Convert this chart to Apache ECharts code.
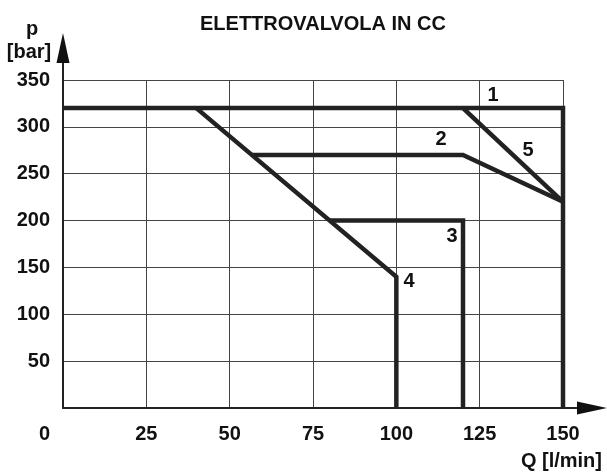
<!DOCTYPE html>
<html>
<head>
<meta charset="utf-8">
<script src="https://cdn.jsdelivr.net/npm/echarts@6/dist/echarts.min.js"></script>
<style>
  html, body { margin: 0; padding: 0; background: #fff; }
  #main { width: 607px; height: 475px; }
</style>
</head>
<body>
<div id="main"></div>
<script>
// curve data (Q in l/min, p in bar)
var curve1 = [[0, 320], [150, 320], [150, 0]];
var curve2 = [[56.7, 270], [120, 270], [150, 220]];
var curve3 = [[80, 200], [120, 200], [120, 0]];
var curve4 = [[40, 320], [100, 140], [100, 0]];
var curve5 = [[120, 320], [150, 220]];

// number tags beside the curves
var tagNames = ['1', '2', '3', '4', '5'];
var tagQ = [129, 113.4, 116.7, 103.8, 139.5];
var tagP = [334, 286, 182.5, 134.5, 275];

var xTicks = [0, 25, 50, 75, 100, 125, 150];
var yTicks = [0, 50, 100, 150, 200, 250, 300, 350];

var FONT = "'Liberation Sans', Arial, sans-serif";
var INK = '#111';

function curveSeries(name, data) {
    return {
        name: name,
        type: 'line',
        data: data,
        symbol: 'none',
        silent: true,
        lineStyle: { color: '#222', width: 4.5, join: 'miter' },
        z: 3
    };
}

var tagData = [];
for (var i = 0; i < tagNames.length; i++) {
    tagData.push([tagQ[i], tagP[i], tagNames[i]]);
}

var option = {
    animation: false,
    title: {
        text: 'ELETTROVALVOLA IN CC',
        left: 195,
        top: 9,
        textStyle: { fontFamily: FONT, fontSize: 20, fontWeight: 'bold', color: INK }
    },
    grid: { left: 63, right: 44, top: 80, bottom: 67, containLabel: false },
    xAxis: {
        type: 'value',
        min: xTicks[0],
        max: xTicks[xTicks.length - 1],
        interval: 25,
        axisLine: { show: true, lineStyle: { color: '#222', width: 2 } },
        axisTick: { show: false },
        splitLine: { show: true, lineStyle: { color: '#444', width: 1 } },
        axisLabel: {
            margin: 16,
            fontFamily: FONT,
            fontSize: 20,
            fontWeight: 'bold',
            color: INK,
            formatter: function (v) {
                if (v === 0) return '{z|0}';
                return String(v);
            },
            rich: {
                z: { fontFamily: FONT, fontSize: 20, fontWeight: 'bold', color: INK, padding: [0, 37, 0, 0] }
            }
        }
    },
    yAxis: {
        type: 'value',
        min: yTicks[0],
        max: yTicks[yTicks.length - 1],
        interval: 50,
        axisLine: { show: true, lineStyle: { color: '#222', width: 2 } },
        axisTick: { show: false },
        splitLine: { show: true, lineStyle: { color: '#444', width: 1 } },
        axisLabel: {
            margin: 13,
            fontFamily: FONT,
            fontSize: 20,
            fontWeight: 'bold',
            color: INK,
            formatter: function (v) {
                return v === 0 ? '' : String(v);
            }
        }
    },
    series: [
        curveSeries('1', curve1),
        curveSeries('2', curve2),
        curveSeries('3', curve3),
        curveSeries('4', curve4),
        curveSeries('5', curve5),
        {
            type: 'scatter',
            data: tagData,
            symbolSize: 0,
            silent: true,
            itemStyle: { opacity: 1 },
            label: {
                show: true,
                position: 'inside',
                formatter: function (p) { return p.value[2]; },
                fontFamily: FONT,
                fontSize: 20,
                fontWeight: 'bold',
                color: INK
            },
            z: 4
        }
    ]
};

var chart = echarts.init(document.getElementById('main'));
chart.setOption(option);

// axis arrows and axis titles, placed from the grid
var origin = chart.convertToPixel({ gridIndex: 0 }, [0, 0]);
var ox = origin[0], oy = origin[1];
var BOLD = 'bold 20px ' + FONT;
chart.setOption({
    graphic: [
        { type: 'line', shape: { x1: ox, y1: oy, x2: 590, y2: oy }, style: { stroke: '#222', lineWidth: 2 }, z: 10 },
        { type: 'polygon', shape: { points: [[577, oy - 6.5], [607, oy], [577, oy + 6.5]] }, style: { fill: '#111' }, z: 10 },
        { type: 'line', shape: { x1: ox, y1: oy, x2: ox, y2: 50 }, style: { stroke: '#222', lineWidth: 2 }, z: 10 },
        { type: 'polygon', shape: { points: [[ox - 6.5, 63], [ox, 33], [ox + 6.5, 63]] }, style: { fill: '#111' }, z: 10 },
        { type: 'text', x: 32, y: 29, style: { text: 'p', font: BOLD, fill: INK, textAlign: 'center', textVerticalAlign: 'middle' } },
        { type: 'text', x: 29, y: 52, style: { text: '[bar]', font: BOLD, fill: INK, textAlign: 'center', textVerticalAlign: 'middle' } },
        { type: 'text', x: 602, y: 461, style: { text: 'Q [l/min]', font: BOLD, fill: INK, textAlign: 'right', textVerticalAlign: 'middle' } }
    ]
});
</script>
</body>
</html>
